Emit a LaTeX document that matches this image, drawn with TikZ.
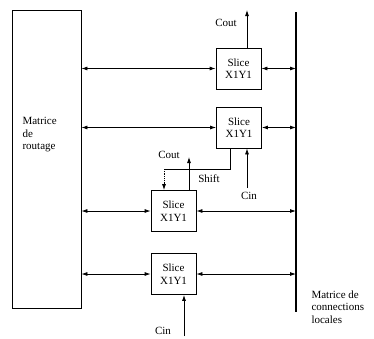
\documentclass[tikz,border=0pt]{standalone}
\usepackage{fontspec}
\setmainfont{Liberation Serif}
\usepackage{tikz}
\usetikzlibrary{arrows.meta}
\tikzset{
  dblarr/.style   = {{Latex[length=6pt,width=4pt]}-{Latex[length=6pt,width=4pt]},thick},
  sigarr/.style   = {-{Latex[length=6pt,width=4pt]},thick},
  slicebox/.style = {draw,thick,minimum width=45pt,minimum height=41pt,align=center,inner sep=1pt},
  lbl/.style      = {font=\fontsize{11}{12.5}\selectfont}
}

\begin{document}
\begin{tikzpicture}[x=1pt,y=-1pt,lbl]
  \useasboundingbox (0,0) rectangle (374,338);
  \node[draw,thick,minimum width=69pt,minimum height=298pt] (routage) at (46.5,159) {};
  \node[align=left,anchor=west] (routtxt) at (19,135) {Matrice\\de\\routage};
  \coordinate (busTop) at (296,12);
  \coordinate (busBot) at (296,312);
  \draw[line width=2.4pt] (busTop) -- (busBot);
  \node[align=left,anchor=west] (loctxt) at (308,307) {Matrice de\\connections\\locales};
  \node[slicebox] (s1) at (238.5,68.5) {Slice\\X1Y1};
  \node[slicebox] (s2) at (239,127.5) {Slice\\X1Y1};
  \node[slicebox] (s3) at (173.5,211) {Slice\\X1Y1};
  \node[slicebox] (s4) at (173.5,274) {Slice\\X1Y1};
  \foreach \s in {s1,s2,s3,s4} {
    \draw[dblarr] (routage.east |- \s.west) -- (\s.west);
    \draw[dblarr] (\s.east) -- (busTop |- \s.east);
  }
  \coordinate (cout1) at (247,10);
  \draw[sigarr] (s1.north -| cout1) -- (cout1);
  \node (cout1txt) at (226,23) {Cout};
  \coordinate (cin2) at (247,188);
  \draw[sigarr] (cin2) -- (cin2 |- s2.south);
  \node (cin2txt) at (249,196) {Cin};
  \coordinate (shiftA) at (230,169);
  \coordinate (shiftB) at (164,169);
  \draw[thick] (s2.south -| shiftA) -- (shiftA) -- (shiftB);
  \draw[sigarr,densely dotted] (shiftB) -- (shiftB |- s3.north);
  \node (shifttxt) at (209,179) {Shift};
  \coordinate (cout3) at (189,157);
  \draw[sigarr] (s3.north -| cout3) -- (cout3);
  \node (cout3txt) at (169,155) {Cout};
  \coordinate (cin4) at (184,336);
  \draw[sigarr] (cin4) -- (cin4 |- s4.south);
  \node (cin4txt) at (163,331) {Cin};
\end{tikzpicture}
\end{document}
